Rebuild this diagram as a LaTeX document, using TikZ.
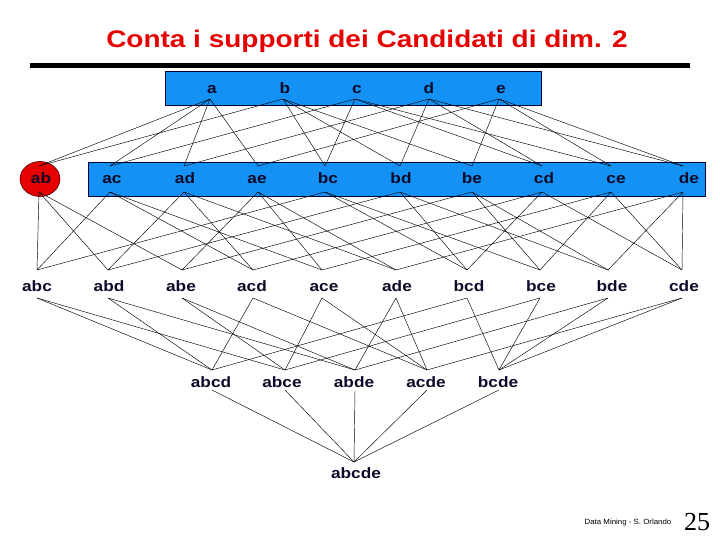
\documentclass[tikz,border=0pt]{standalone}
\usepackage{fontspec}
\setmainfont{Liberation Sans}
\newfontfamily\timesfont{Liberation Serif}
\usetikzlibrary{shapes.geometric}
\definecolor{boxblue}{RGB}{20,145,245}
\definecolor{titlered}{RGB}{230,0,0}
\definecolor{labelink}{RGB}{10,10,40}
\newcommand\hstretch[2]{\scalebox{#1}[1]{#2}}
\begin{document}
\begin{tikzpicture}[x=1pt,y=-1pt,
  lbl/.style={inner sep=0pt,anchor=base,text=labelink,font=\fontsize{15}{15}\selectfont\bfseries},
  edge/.style={line width=0.45pt,black},
  bluebox/.style={fill=boxblue,draw=black!80!blue,line width=0.6pt}]
\useasboundingbox (0,0) rectangle (720,540);
% title
\node[inner sep=0pt,anchor=base,text=titlered,font=\fontsize{24}{24}\selectfont\bfseries] (title) at (367,48) {\hstretch{1.165}{Conta i supporti dei Candidati di dim. 2}};
\fill[black] (30,63.5) rectangle (690,68.5);
% boxes
\draw[bluebox] (165,71) rectangle (541,105);
\draw[bluebox] (88,162) rectangle (705,196);
\node[ellipse,fill=titlered,draw=black!70!red,line width=0.6pt,minimum width=40pt,minimum height=35pt,inner sep=0pt] (abell) at (40,179) {};
% level 1
\foreach \n/\x/\ax in {a/212/210,b/285/283,c/357/355,d/429/429,e/501/499}{
  \node[lbl] (\n) at (\x,94) {\hstretch{1.15}{\n}};
  \coordinate (\n-b) at (\ax,99);
}
% level 2
\foreach \n/\x/\ax in {ab/41/39,ac/112/110,ad/185/184,ae/257/258,bc/328/325,bd/401/400,be/472/472,cd/544/542,ce/616/611,de/689/683}{
  \node[lbl] (\n) at (\x,184) {\hstretch{1.15}{\n}};
  \coordinate (\n-t) at (\ax,166);
  \coordinate (\n-b) at (\ax,192);
}
% level 3
\foreach \n/\x/\ax in {abc/37/37,abd/109/108,abe/181/182,acd/252/253,ace/324/322,ade/397/396,bcd/469/467,bce/541/540,bde/612/608,cde/684/682}{
  \node[lbl] (\n) at (\x,291) {\hstretch{1.15}{\n}};
  \coordinate (\n-t) at (\ax,270);
  \coordinate (\n-b) at (\ax,298);
}
% level 4
\foreach \n/\x/\ax in {abcd/211/212,abce/282/285,abde/354/355,acde/426/427,bcde/498/499}{
  \node[lbl] (\n) at (\x,387) {\hstretch{1.15}{\n}};
  \coordinate (\n-t) at (\ax,370);
  \coordinate (\n-b) at (\ax,390);
}
% level 5
\node[lbl] (abcde) at (356,478) {\hstretch{1.15}{abcde}};
\coordinate (abcde-t) at (354,462);
% edges
\foreach \u/\v in {a/ab,b/ab,a/ac,c/ac,a/ad,d/ad,a/ae,e/ae,b/bc,c/bc,b/bd,d/bd,b/be,e/be,c/cd,d/cd,c/ce,e/ce,d/de,e/de}
  \draw[edge] (\u-b) -- (\v-t);
\foreach \u/\v in {ab/abc,ac/abc,bc/abc,ab/abd,ad/abd,bd/abd,ab/abe,ae/abe,be/abe,ac/acd,ad/acd,cd/acd,ac/ace,ae/ace,ce/ace,ad/ade,ae/ade,de/ade,bc/bcd,bd/bcd,cd/bcd,bc/bce,be/bce,ce/bce,bd/bde,be/bde,de/bde,cd/cde,ce/cde,de/cde}
  \draw[edge] (\u-b) -- (\v-t);
\foreach \u/\v in {abc/abcd,abd/abcd,acd/abcd,bcd/abcd,abc/abce,abe/abce,ace/abce,bce/abce,abd/abde,abe/abde,ade/abde,bde/abde,acd/acde,ace/acde,ade/acde,cde/acde,bcd/bcde,bce/bcde,bde/bcde,cde/bcde}
  \draw[edge] (\u-b) -- (\v-t);
\foreach \u in {abcd,abce,abde,acde,bcde}
  \draw[edge] (\u-b) -- (abcde-t);
% footer
\node[inner sep=0pt,font=\fontsize{7.5}{7.5}\selectfont] (foot) at (628,523) {\hstretch{1.05}{Data Mining - S. Orlando}};
\node[inner sep=0pt,font=\timesfont\fontsize{26}{26}\selectfont] (page) at (697,522) {25};
\end{tikzpicture}
\end{document}
